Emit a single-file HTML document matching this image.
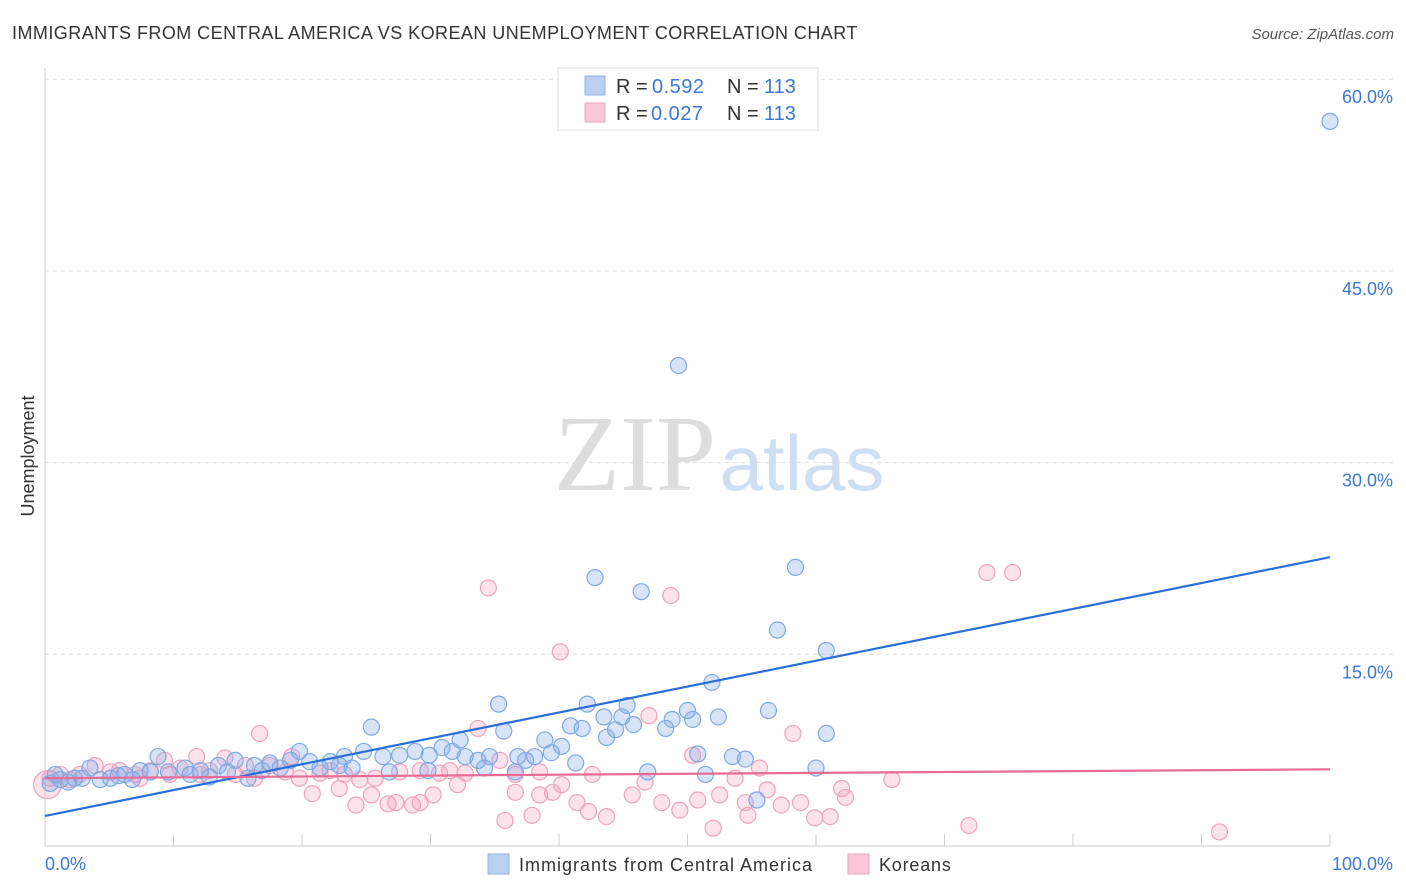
<!DOCTYPE html>
<html><head><meta charset="utf-8"><style>
body{margin:0;background:#fff;font-family:"Liberation Sans",sans-serif;}
svg{display:block}
</style></head><body>
<svg id="chart" width="1406" height="892" xmlns="http://www.w3.org/2000/svg">
<text x="12" y="39" font-size="18" fill="#333" letter-spacing="0.45">IMMIGRANTS FROM CENTRAL AMERICA VS KOREAN UNEMPLOYMENT CORRELATION CHART</text>
<text x="1394" y="39" font-size="15" fill="#555" font-style="italic" text-anchor="end">Source: ZipAtlas.com</text>
<g>
<text x="635" y="490" font-size="108" fill="#ddd" font-family="Liberation Serif" text-anchor="middle">ZIP</text>
<text x="802" y="490" font-size="78" fill="#cfdff3" text-anchor="middle">atlas</text>
</g>
<g id="grid"></g>
<g id="axes"></g>
<g id="pink"></g>
<g id="blue"></g>
<g id="trends"></g>
<text transform="translate(34,456) rotate(-90)" font-size="18" fill="#333" text-anchor="middle">Unemployment</text>
<g>
<rect x="558" y="68" width="260" height="62" fill="#fff" stroke="#ddd"/>
<rect x="585" y="76" width="20" height="19" fill="#b9d0f2" stroke="#8fb3e8"/>
<rect x="585" y="103" width="20" height="19" fill="#f9c7d6" stroke="#f0a5bd"/>
<text x="616" y="93" font-size="20" fill="#333">R =</text>
<text x="652" y="93" font-size="20" fill="#3a78d4" letter-spacing="0.5">0.592</text>
<text x="727" y="93" font-size="20" fill="#333">N =</text>
<text x="764" y="93" font-size="20" fill="#3a78d4">113</text>
<text x="616" y="120" font-size="20" fill="#333">R =</text>
<text x="651" y="120" font-size="20" fill="#3a78d4" letter-spacing="0.5">0.027</text>
<text x="727" y="120" font-size="20" fill="#333">N =</text>
<text x="764" y="120" font-size="20" fill="#3a78d4">113</text>
</g>
<g>
<rect x="488" y="854" width="21" height="20" fill="#b9d0f2" stroke="#8fb3e8"/>
<text x="519" y="871" font-size="18" fill="#333" letter-spacing="1">Immigrants from Central America</text>
<rect x="848" y="854" width="21" height="20" fill="#f9c7d6" stroke="#f0a5bd"/>
<text x="879" y="871" font-size="18" fill="#333" letter-spacing="0.8">Koreans</text>
</g>
</svg>
<script>
const yTicks=[15,30,45,60];
const yTickLabels=["15.0%","30.0%","45.0%","60.0%"];
const xTickLabels=["0.0%","100.0%"];
const blueX=[100,49.3,42.8,46.4,58.4,57.0,60.8,51.9,56.3,35.3,42.2,45.3,50.0,52.4,43.5,44.9,48.8,50.4,40.9,41.8,45.8,44.4,48.3,43.7,35.7,25.4,32.3,38.9,40.2,39.4,50.8,53.5,54.5,60.8,60.0,46.9,51.4,55.4,41.3,38.1,37.4,36.8,34.6,33.7,32.7,30.9,29.9,28.8,27.6,26.3,24.8,23.3,22.2,19.8,19.1,17.5,16.3,14.8,13.5,12.1,10.9,8.8,7.4,6.2,5.1,3.5,2.3,1.2,0.4,0.8,1.8,2.9,4.3,5.7,6.8,8.2,9.6,11.3,12.8,15.8,16.9,18.3,21.4,23.9,26.8,29.8,34.2,36.6,14.2,20.6,22.9,31.7];
const blueY=[56.7,37.6,21.0,19.9,21.8,16.9,15.3,12.8,10.6,11.1,11.1,11.0,10.6,10.1,10.1,10.1,9.9,9.9,9.4,9.2,9.5,9.1,9.2,8.5,9.0,9.3,8.3,8.3,7.8,7.3,7.2,7.0,6.8,8.8,6.1,5.8,5.6,3.6,6.5,7.0,6.7,7.0,7.0,6.7,7.0,7.7,7.1,7.4,7.1,7.0,7.4,7.0,6.6,7.4,6.7,6.5,6.3,6.7,6.3,5.9,6.1,7.0,5.9,5.6,5.3,6.1,5.3,5.2,4.9,5.6,5.0,5.3,5.2,5.5,5.2,5.8,5.8,5.6,5.4,5.3,5.9,6.1,6.1,6.1,5.8,5.9,6.1,5.8,5.8,6.6,6.3,7.4];
const pinkX=[34.5,48.7,73.3,75.3,40.1,47.0,33.7,16.7,58.2,50.4,55.6,53.7,65.9,62.0,62.3,56.2,52.5,50.8,48.0,45.7,42.6,40.2,39.5,38.5,36.6,35.8,37.9,42.3,43.7,41.4,46.7,49.4,52.0,54.5,54.7,57.3,58.8,59.9,61.1,71.9,91.4,30.2,29.2,28.6,27.3,26.7,25.4,24.2,22.9,20.8,19.8,27.6,30.7,32.1,32.7,31.5,29.2,25.7,23.3,22.2,19.2,17.5,15.6,14.0,12.8,11.8,10.5,9.3,8.2,7.0,5.8,3.9,2.7,1.2,0.4,0.2,1.9,5.1,7.4,9.7,12.1,14.8,16.3,18.7,21.4,24.5,36.6,38.5,35.4];
const pinkY=[20.2,19.6,21.4,21.4,15.2,10.2,9.2,8.8,8.8,7.1,6.1,5.3,5.2,4.5,3.8,4.4,4.0,3.6,3.4,4.0,5.6,4.8,4.2,4.0,4.2,2.0,2.4,2.7,2.3,3.4,5.0,2.8,1.4,3.4,2.4,3.2,3.4,2.2,2.3,1.6,1.1,4.0,3.4,3.2,3.4,3.3,4.0,3.2,4.5,4.1,5.3,5.8,5.7,4.8,5.7,5.9,5.9,5.3,5.6,5.9,7.0,6.3,6.3,6.9,5.9,7.0,6.1,6.7,5.9,5.6,5.9,6.3,5.6,5.6,5.3,4.8,5.2,5.8,5.3,5.6,5.6,5.6,5.3,5.8,5.7,5.2,5.6,5.8,6.7];
const blueTrend=[2.35,22.6];
const pinkTrend=[5.3,6.0];
const NS='http://www.w3.org/2000/svg';
const X=v=>45+v*12.85, Y=v=>846-v*12.78;
function mk(t,a,p){const e=document.createElementNS(NS,t);for(const k in a)e.setAttribute(k,a[k]);p.appendChild(e);return e;}
const grid=document.getElementById('grid'),axes=document.getElementById('axes');
yTicks.forEach((t,i)=>{
  const l=mk('line',{x1:45,x2:1394,y1:Y(t),y2:Y(t),stroke:'#ddd','stroke-dasharray':'4,4'},grid);
  
  
  const tx=mk('text',{x:1393,y:Y(t)+24,'font-size':18,fill:'#3a78d4','text-anchor':'end'},axes);
  tx.textContent=yTickLabels[i];
  
  
});
const ax=mk('line',{x1:45,x2:45,y1:68,y2:846,stroke:'#ccc'},axes);


const bx=mk('line',{x1:45,x2:1330,y1:846,y2:846,stroke:'#ccc'},axes);


for(let i=0;i<=10;i++){
  const t=mk('line',{x1:X(i*10),x2:X(i*10),y1:846,y2:834,stroke:'#ccc'},axes);
  
  
}
[[0,'start',45],[1,'end',1393]].forEach(([i,a,x])=>{
  const t=mk('text',{x:x,y:870,'font-size':18,fill:'#3a78d4','text-anchor':a},axes);
  t.textContent=xTickLabels[i];
  
  
});
const pg=document.getElementById('pink'),bg=document.getElementById('blue');
pinkX.forEach((v,i)=>{
  const c=mk('circle',{cx:X(v),cy:Y(pinkY[i]),r:(v<0.5&&pinkY[i]<5)?14:8,fill:'rgba(244,160,188,0.3)',stroke:'#eea3bc','stroke-width':1.2},pg);
  
  
});
blueX.forEach((v,i)=>{
  const c=mk('circle',{cx:X(v),cy:Y(blueY[i]),r:8,fill:'rgba(130,170,232,0.32)',stroke:'#7ea8e2','stroke-width':1.2},bg);
  
  
});
const tg=document.getElementById('trends');
const bl=mk('line',{x1:X(0),y1:Y(blueTrend[0]),x2:X(100),y2:Y(blueTrend[1]),stroke:'#2a6fd6','stroke-width':2.2},tg);


const pl=mk('line',{x1:X(0),y1:Y(pinkTrend[0]),x2:X(100),y2:Y(pinkTrend[1]),stroke:'#e86a95','stroke-width':2.2},tg);


</script>
</body></html>
